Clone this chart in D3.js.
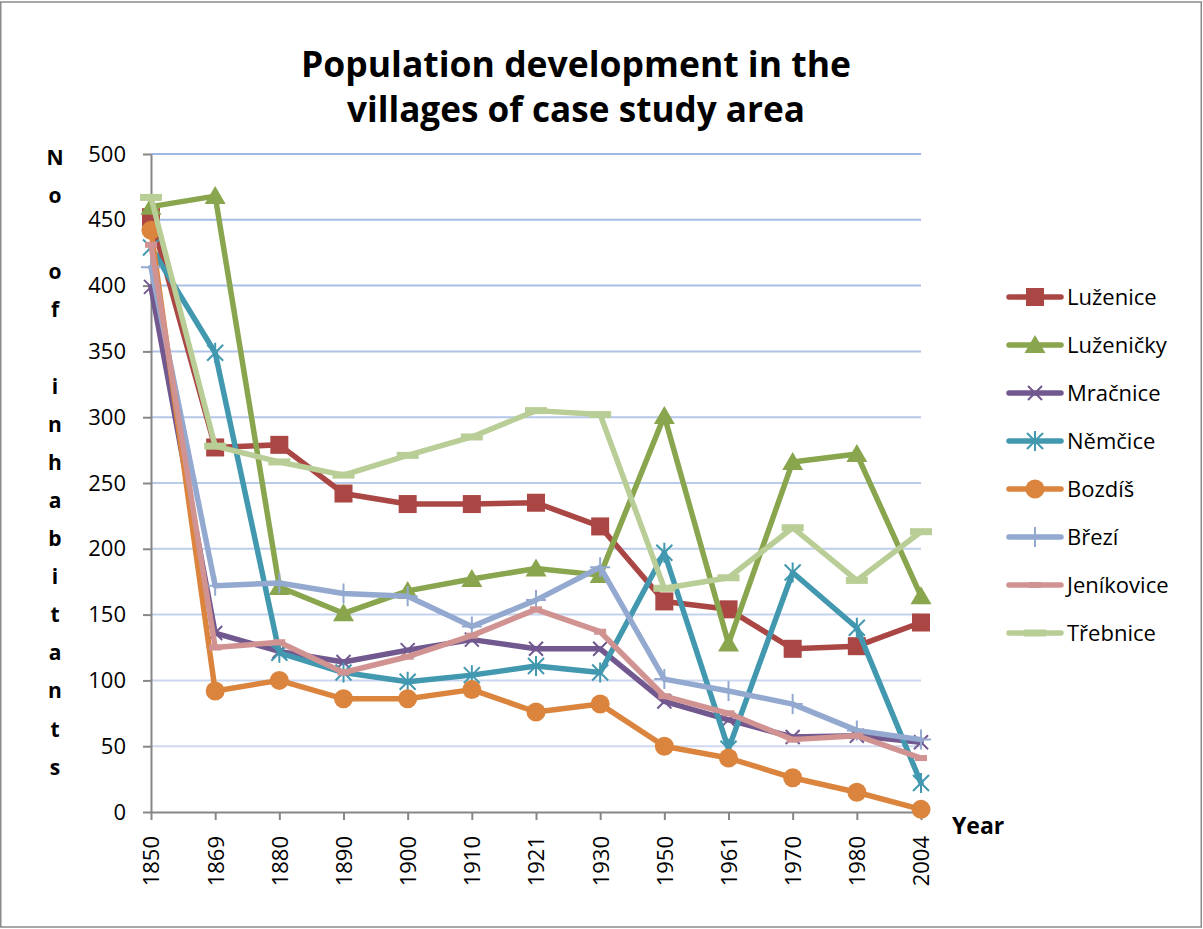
<!DOCTYPE html>
<html>
<head>
<meta charset="utf-8">
<script src="https://cdn.jsdelivr.net/npm/d3@7/dist/d3.min.js"></script>
<style>
  html, body { margin: 0; padding: 0; background: #fff; }
  svg { display: block; }
  text { font-family: "Open Sans", "Liberation Sans", sans-serif; fill: #000; }
</style>
</head>
<body>
<svg id="chart" width="1203" height="929"></svg>
<script>
// Census years (category axis)
const years = ["1850", "1869", "1880", "1890", "1900", "1910", "1921", "1930", "1950", "1961", "1970", "1980", "2004"];

// Number of inhabitants per village
const luzenice   = [452, 277, 279, 242, 234, 234, 235, 217, 160, 154, 124, 126, 144];
const luzenicky  = [460, 468, 171, 151, 168, 177, 185, 180, 301, 128, 266, 272, 164];
const mracnice   = [399, 136, 122, 114, 123, 131, 124, 124, 84, 70, 57, 58, 53];
const nemcice    = [429, 349, 121, 106, 99, 104, 111, 106, 197, 48, 182, 140, 22];
const bozdis     = [442, 92, 100, 86, 86, 93, 76, 82, 50, 41, 26, 15, 2];
const brezi      = [414, 172, 174, 166, 164, 141, 161, 186, 101, 92, 82, 62, 55];
const jenikovice = [431, 125, 129, 106, 118, 134, 154, 137, 88, 75, 55, 58, 41];
const trebnice   = [467, 278, 266, 256, 271, 285, 305, 302, 170, 178, 216, 176, 213];

// Value axis ticks
const yTicks = [0, 50, 100, 150, 200, 250, 300, 350, 400, 450, 500];

const villageNames = ["Luženice", "Luženičky", "Mračnice", "Němčice", "Bozdíš", "Březí", "Jeníkovice", "Třebnice"];
const villageValues = [luzenice, luzenicky, mracnice, nemcice, bozdis, brezi, jenikovice, trebnice];
const villageColors = ["#AA4643", "#89A54E", "#71588F", "#4198AF", "#DB843D", "#93A9CF", "#D19392", "#B9CD96"];
const villageMarkers = ["square", "triangle", "x", "asterisk", "circle", "plus", "dash", "longdash"];

const series = villageNames.map((name, i) => ({
  name, values: villageValues[i], color: villageColors[i], marker: villageMarkers[i]
}));

const svg = d3.select("#chart");
const plot = { left: 151, right: 921, top: 154, bottom: 812 };

// Outer chart frame
svg.append("rect")
  .attr("x", 0.75).attr("y", 2).attr("width", 1200.5).attr("height", 925)
  .attr("fill", "#fff").attr("stroke", "#8a8a8a").attr("stroke-width", 1.5);

// Title
const title = svg.append("g").attr("font-weight", "bold").attr("font-size", 36);
title.append("text").attr("x", 576).attr("y", 77).attr("text-anchor", "middle")
  .attr("textLength", 550).attr("lengthAdjust", "spacingAndGlyphs")
  .text("Population development in the");
title.append("text").attr("x", 576).attr("y", 122).attr("text-anchor", "middle")
  .attr("textLength", 458).attr("lengthAdjust", "spacingAndGlyphs")
  .text("villages of case study area");

const x = d3.scalePoint().domain(years).range([plot.left, plot.right]);
const y = d3.scaleLinear().domain([0, 500]).range([plot.bottom, plot.top]);

// Horizontal gridlines, fading slightly toward the bottom
const gridColor = d3.interpolateRgb("#d3ddf1", "#9fb8e3");
svg.append("g").selectAll("line")
  .data(yTicks.filter(v => v > 0))
  .join("line")
  .attr("x1", plot.left).attr("x2", plot.right)
  .attr("y1", d => y(d)).attr("y2", d => y(d))
  .attr("stroke", d => gridColor(d / 500)).attr("stroke-width", 2);

// Value axis
const yAxis = svg.append("g")
  .attr("transform", `translate(${plot.left},0)`)
  .call(d3.axisLeft(y).tickValues(yTicks).tickSize(8).tickSizeOuter(0).tickPadding(17));
yAxis.select(".domain").attr("stroke", "#868686").attr("stroke-width", 2);
yAxis.selectAll(".tick line").attr("stroke", "#868686").attr("stroke-width", 2);
yAxis.selectAll(".tick text").attr("font-size", 22).style("font-family", "'Open Sans', sans-serif").attr("fill", "#000");

// Category axis
const xAxis = svg.append("g")
  .attr("transform", `translate(0,${plot.bottom})`)
  .call(d3.axisBottom(x).tickSize(8).tickSizeOuter(0));
xAxis.select(".domain").attr("stroke", "#868686").attr("stroke-width", 2);
xAxis.selectAll(".tick line").attr("stroke", "#868686").attr("stroke-width", 2);
xAxis.selectAll(".tick text")
  .attr("font-size", 22).style("font-family", "'Open Sans', sans-serif").attr("fill", "#000")
  .attr("transform", "rotate(-90)")
  .attr("x", -24).attr("y", 0).attr("dy", "0.36em")
  .attr("text-anchor", "end");

// Axis titles
const yTitleLines = ["N", "o", "", "o", "f", "", "i", "n", "h", "a", "b", "i", "t", "a", "n", "t", "s"];
svg.append("g").attr("font-weight", "bold").attr("font-size", 21).attr("text-anchor", "middle")
  .selectAll("text").data(yTitleLines).join("text")
  .attr("x", 55).attr("y", (d, i) => 165 + i * 38.1)
  .text(d => d);
svg.append("text").attr("x", 952).attr("y", 834)
  .attr("font-weight", "bold").attr("font-size", 23).text("Year");

// Marker drawing
function drawMarker(g, type, color) {
  switch (type) {
    case "square":
      g.append("rect").attr("x", -9).attr("y", -9).attr("width", 18).attr("height", 18).attr("fill", color);
      break;
    case "triangle":
      g.append("path").attr("d", "M0,-10L10.5,8L-10.5,8Z").attr("fill", color);
      break;
    case "circle":
      g.append("circle").attr("r", 9.5).attr("fill", color);
      break;
    case "x":
      g.append("path").attr("d", "M-7,-7L7,7M-7,7L7,-7").attr("stroke", color).attr("stroke-width", 2).attr("fill", "none");
      break;
    case "asterisk":
      g.append("path").attr("d", "M-8,-8L8,8M-8,8L8,-8M0,-10L0,10").attr("stroke", color).attr("stroke-width", 2).attr("fill", "none");
      break;
    case "plus":
      g.append("path").attr("d", "M0,-10L0,10M-10,0L10,0").attr("stroke", color).attr("stroke-width", 2).attr("fill", "none");
      break;
    case "dash":
      g.append("rect").attr("x", -6).attr("y", -3).attr("width", 12).attr("height", 6).attr("fill", color);
      break;
    case "longdash":
      g.append("rect").attr("x", -11).attr("y", -3.5).attr("width", 22).attr("height", 7).attr("fill", color);
      break;
  }
}

const line = d3.line().x((d, i) => x(years[i])).y(d => y(d));

// Series lines with markers, drawn in series order
series.forEach(s => {
  const g = svg.append("g");
  g.append("path").datum(s.values)
    .attr("d", line).attr("fill", "none")
    .attr("stroke", s.color).attr("stroke-width", 5.5)
    .attr("stroke-linejoin", "round").attr("stroke-linecap", "round");
  s.values.forEach((v, i) => {
    const m = g.append("g").attr("transform", `translate(${x(years[i])},${y(v)})`);
    drawMarker(m, s.marker, s.color);
  });
});

// Legend
const legend = svg.append("g");
series.forEach((s, i) => {
  const cy = 297 + i * 48;
  const item = legend.append("g");
  item.append("line").attr("x1", 1009).attr("x2", 1061).attr("y1", cy).attr("y2", cy)
    .attr("stroke", s.color).attr("stroke-width", 5.5).attr("stroke-linecap", "round");
  const m = item.append("g").attr("transform", `translate(1035,${cy})`);
  drawMarker(m, s.marker, s.color);
  item.append("text").attr("x", 1067).attr("y", cy).attr("dy", "0.36em")
    .attr("font-size", 22).text(s.name);
});
</script>
</body>
</html>
